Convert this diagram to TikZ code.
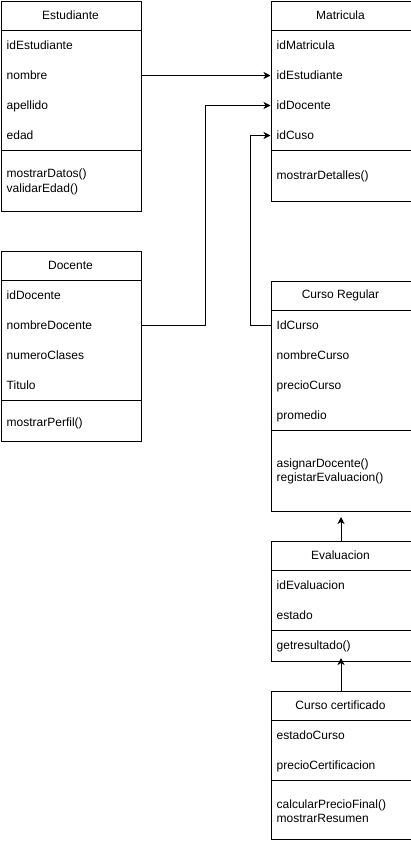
\documentclass[tikz,border=0pt]{standalone}
\usepackage{fontspec}
\setmainfont{Liberation Sans}
\usetikzlibrary{arrows.meta}

\begin{document}
\begin{tikzpicture}[x=1pt, y=-1pt,
	classbox/.style={draw, line width=1pt, minimum width=140pt, anchor=north west, inner sep=0pt},
	field/.style={anchor=west, minimum width=140pt, minimum height=30pt, text width=128pt, inner xsep=6pt, inner ysep=0pt, text height=10pt, text depth=2pt, align=left, font=\fontsize{12}{14.4}\selectfont},
	method/.style={anchor=base west, inner sep=0pt, font=\fontsize{12}{14.4}\selectfont},
	title/.style={inner sep=0pt, font=\fontsize{12}{14.4}\selectfont},
	link/.style={line width=1pt, -{Stealth[length=7pt, width=7pt, inset=2pt]}}]
		%%%%% START %%%%%
		\useasboundingbox (0, 0) rectangle (411, 841);
		
		% Estudiante
		\node[classbox, minimum height=210pt] (est) at (0.5, 0.5) {};
		\node[title] (estTitle) at (70.5, 15.5) {Estudiante};
		\draw[line width=1pt] (0.5, 30.5) -- (140.5, 30.5);
		\node[field] (estId) at (0.5, 45.5) {idEstudiante};
		\node[field] (estNombre) at (0.5, 75.5) {nombre};
		\node[field] (estApellido) at (0.5, 105.5) {apellido};
		\node[field] (estEdad) at (0.5, 135.5) {edad};
		\draw[line width=1pt] (0.5, 150.5) -- (140.5, 150.5);
		\node[method] (estM1) at (6.5, 177.5) {mostrarDatos()};
		\node[method] (estM2) at (6.5, 192) {validarEdad()};
		
		% Matricula
		\node[classbox, minimum height=200pt] (mat) at (270.5, 0.5) {};
		\node[title] (matTitle) at (340.5, 15.5) {Matricula};
		\draw[line width=1pt] (270.5, 30.5) -- (410.5, 30.5);
		\node[field] (matIdMat) at (270.5, 45.5) {idMatricula};
		\node[field] (matIdEst) at (270.5, 75.5) {idEstudiante};
		\node[field] (matIdDoc) at (270.5, 105.5) {idDocente};
		\node[field] (matIdCuso) at (270.5, 135.5) {idCuso};
		\draw[line width=1pt] (270.5, 150.5) -- (410.5, 150.5);
		\node[method] (matM1) at (276.5, 179) {mostrarDetalles()};
		
		% Docente
		\node[classbox, minimum height=190pt] (doc) at (0.5, 250.5) {};
		\node[title] (docTitle) at (70.5, 265.5) {Docente};
		\draw[line width=1pt] (0.5, 280.5) -- (140.5, 280.5);
		\node[field] (docId) at (0.5, 295.5) {idDocente};
		\node[field] (docNombre) at (0.5, 325.5) {nombreDocente};
		\node[field] (docClases) at (0.5, 355.5) {numeroClases};
		\node[field] (docTitulo) at (0.5, 385.5) {Titulo};
		\draw[line width=1pt] (0.5, 400.5) -- (140.5, 400.5);
		\node[method] (docM1) at (6.5, 426) {mostrarPerfil()};
		
		% Curso Regular
		\node[classbox, minimum height=230pt] (creg) at (270.5, 280.5) {};
		\node[title] (cregTitle) at (340.5, 295.5) {Curso Regular};
		\draw[line width=1pt] (270.5, 310.5) -- (410.5, 310.5);
		\node[field] (cregId) at (270.5, 325.5) {IdCurso};
		\node[field] (cregNombre) at (270.5, 355.5) {nombreCurso};
		\node[field] (cregPrecio) at (270.5, 385.5) {precioCurso};
		\node[field] (cregProm) at (270.5, 415.5) {promedio};
		\draw[line width=1pt] (270.5, 430.5) -- (410.5, 430.5);
		\node[method] (cregM1) at (276.5, 467) {asignarDocente()};
		\node[method] (cregM2) at (276.5, 481.5) {registarEvaluacion()};
		
		% Evaluacion
		\node[classbox, minimum height=120pt] (eval) at (270.5, 540.5) {};
		\node[title] (evalTitle) at (340.5, 555.5) {Evaluacion};
		\draw[line width=1pt] (270.5, 570.5) -- (410.5, 570.5);
		\node[field] (evalId) at (270.5, 585.5) {idEvaluacion};
		\node[field] (evalEstado) at (270.5, 615.5) {estado};
		\draw[line width=1pt] (270.5, 630.5) -- (410.5, 630.5);
		\node[field] (evalM1) at (270.5, 645.5) {getresultado()};
		
		% Curso certificado
		\node[classbox, minimum height=148pt] (ccert) at (270.5, 690.5) {};
		\node[title] (ccertTitle) at (340.5, 705.5) {Curso certificado};
		\draw[line width=1pt] (270.5, 720.5) -- (410.5, 720.5);
		\node[field] (ccertEstado) at (270.5, 735.5) {estadoCurso};
		\node[field] (ccertPrecio) at (270.5, 765.5) {precioCertificacion};
		\draw[line width=1pt] (270.5, 780.5) -- (410.5, 780.5);
		\node[method] (ccertM1) at (276.5, 808) {calcularPrecioFinal()};
		\node[method] (ccertM2) at (276.5, 822.5) {mostrarResumen};
		
		% links
		\draw[link] (estNombre.east) -- (matIdEst.west);
		\draw[link] (docNombre.east) -- ++(65, 0) |- (matIdDoc.west);
		\draw[link] (cregId.west) -- ++(-20, 0) |- (matIdCuso.west);
		\draw[link] (eval.north) -- ([yshift=-5.5pt]creg.south);
		\draw[link] (ccert.north) -- ([yshift=3.5pt]eval.south);
		
		%%%%% END %%%%%
	\end{tikzpicture}
\end{document}
